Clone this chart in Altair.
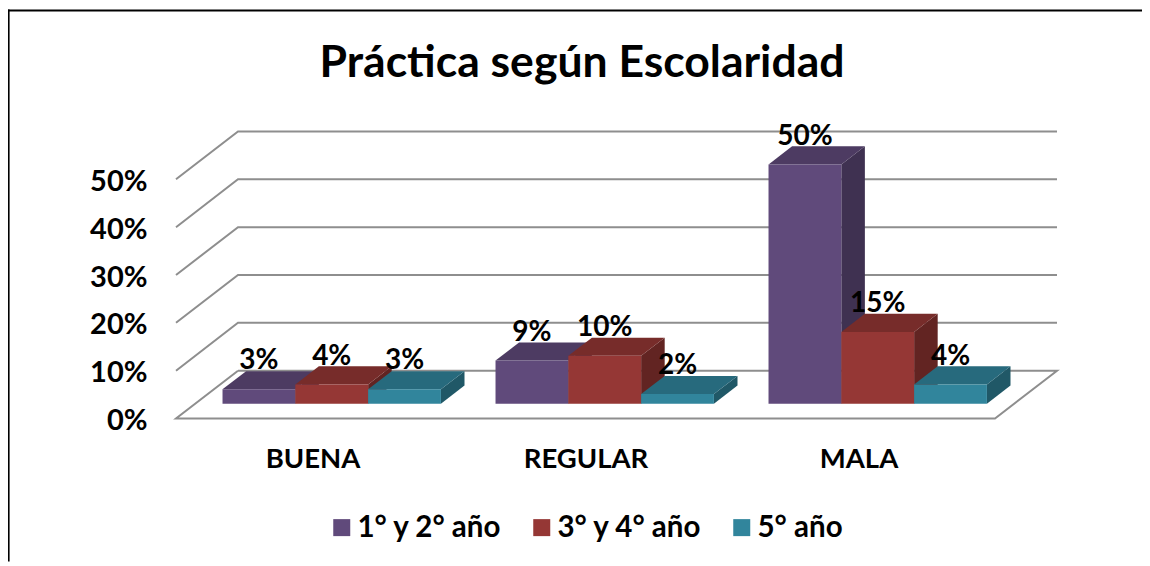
import json
import altair as alt
import pandas as pd

CATEGORIES = ["BUENA", "REGULAR", "MALA"]
SERIES = ["1° y 2° año", "3° y 4° año", "5° año"]
V1 = [3, 9, 50]
V2 = [4, 10, 15]
V3 = [3, 2, 4]
VALUES = [V1, V2, V3]
TICKS = [0, 10, 20, 30, 40, 50]
FRONT = ["#604A7B", "#953735", "#31859C"]
TOP = ["#4D3B62", "#772C2A", "#276A7D"]
SIDE = ["#3F3151", "#622422", "#205867"]
TITLE = "Práctica según Escolaridad"
FONT = "Lato"

# oblique projection: one unit of depth moves a point right and up
DEPTH_X = 62 / 273
DEPTH_Y = 10
GAP = 0.1
BAR_W = (1 - 2 * GAP) / 3
D0, D1 = 0.31, 0.69
X_MAX = 3 + DEPTH_X
Y_MAX = 60

fronts, sides, tops = [], [], []
for j, s in enumerate(SERIES):
    for g, v in enumerate(VALUES[j]):
        bid = f"{g}-{j}"
        xl = g + GAP + j * BAR_W
        xr = xl + BAR_W
        px0, py0 = D0 * DEPTH_X, D0 * DEPTH_Y
        px1, py1 = D1 * DEPTH_X, D1 * DEPTH_Y
        fronts.append(dict(serie=s, x=xl + px0, x2=xr + px0, y=py0 + v, y2=py0, xc=(xl + xr) / 2 + px0, label=f"{v}%"))
        sides.append(dict(serie=s, bar=bid, x=xr + px0, y=py0 + v, y2=py0))
        sides.append(dict(serie=s, bar=bid, x=xr + px1, y=py1 + v, y2=py1))
        tops.append(dict(serie=s, bar=bid, y=py0 + v, x=xl + px0, x2=xr + px0))
        tops.append(dict(serie=s, bar=bid, y=py1 + v, x=xl + px1, x2=xr + px1))

grid = []
for t in TICKS[1:]:
    grid.append(dict(line=t, o=0, x=0, y=t))
    grid.append(dict(line=t, o=1, x=DEPTH_X, y=t + DEPTH_Y))
    grid.append(dict(line=t, o=2, x=X_MAX, y=t + DEPTH_Y))
for o, (x, y) in enumerate([(DEPTH_X, DEPTH_Y), (0, 0), (3, 0), (X_MAX, DEPTH_Y), (DEPTH_X, DEPTH_Y)]):
    grid.append(dict(line=0, o=o, x=x, y=y))

xs = alt.Scale(domain=[0, X_MAX], nice=False, zero=False)
ys = alt.Scale(domain=[0, Y_MAX], nice=False, zero=False)
label_expr = json.dumps(CATEGORIES) + "[floor(datum.value)]"
AX_X = alt.Axis(
    values=[0.5, 1.5, 2.5], labelExpr=label_expr, title=None, domain=False, ticks=False, grid=False,
    labelFont=FONT, labelFontSize=27.5, labelFontWeight="bold", labelColor="black", labelPadding=27, labelFlush=False,
    labelOverlap=False)
AX_Y = alt.Axis(
    values=TICKS, labelExpr="datum.value + '%'", title=None, domain=False, ticks=False, grid=False,
    labelFont=FONT, labelFontSize=29, labelFontWeight="bold", labelColor="black", labelPadding=29, labelOffset=2)
X = alt.X("x:Q", scale=xs, axis=AX_X)
Y = alt.Y("y:Q", scale=ys, axis=AX_Y)

grid_layer = alt.Chart(pd.DataFrame(grid)).mark_line(color="#8E8E8E", strokeWidth=2, strokeJoin="miter").encode(
    x=X, y=Y, detail="line:N", order="o:Q",
)
sdf = pd.DataFrame(sides)
tdf = pd.DataFrame(tops)
side_layers = [
    alt.Chart(sdf[sdf.serie == s]).mark_area(orient="vertical", opacity=1, color=c).encode(x=X, y=Y, y2="y2:Q", detail="bar:N")
    for s, c in zip(SERIES, SIDE)
]
top_layers = [
    alt.Chart(tdf[tdf.serie == s]).mark_area(orient="horizontal", opacity=1, color=c).encode(x=X, x2="x2:Q", y=Y, detail="bar:N")
    for s, c in zip(SERIES, TOP)
]
fdf = pd.DataFrame(fronts)
front_layer = alt.Chart(fdf).mark_rect().encode(
    x=X, x2="x2:Q", y=Y, y2="y2:Q",
    color=alt.Color("serie:N", scale=alt.Scale(domain=SERIES, range=FRONT), sort=SERIES, legend=alt.Legend(
        title=None, orient="none", legendX=151, legendY=381, direction="horizontal", columns=3,
        symbolType="square", symbolSize=289, symbolStrokeWidth=0, labelFont=FONT, labelFontSize=29.5,
        labelFontWeight="bold", labelColor="black", labelOffset=1, columnPadding=25, padding=0,
        symbolOpacity=1)),
)
text_layer = alt.Chart(fdf).mark_text(font=FONT, fontSize=28, fontWeight="bold", color="black", dy=-28, baseline="middle").encode(
    x=alt.X("xc:Q", scale=xs, axis=AX_X), y=Y, text="label:N",
)
frame_left = alt.Chart(pd.DataFrame({"a": [0]})).mark_rule(color="black", strokeWidth=1.6).encode(
    x=alt.value(-167.2), y=alt.value(-122), y2=alt.value(430))
frame_top = alt.Chart(pd.DataFrame({"a": [0]})).mark_rule(color="black", strokeWidth=2).encode(
    x=alt.value(-168), x2=alt.value(966), y=alt.value(-121))

chart = alt.layer(frame_left, frame_top, grid_layer, *side_layers, *top_layers, front_layer, text_layer).properties(
    width=881, height=287,
    padding={"left": 168, "top": 123.5, "right": 85, "bottom": 145.5},
    autosize=alt.AutoSizeParams(type="none"),
    title=alt.TitleParams(TITLE, font=FONT, fontSize=44.5, fontWeight="bold", color="black", anchor="middle", dx=-34.5, offset=-78),
    background="white",
).configure_view(stroke=None)

chart.save("out.html", embed_options={"renderer": "svg", "actions": False})
